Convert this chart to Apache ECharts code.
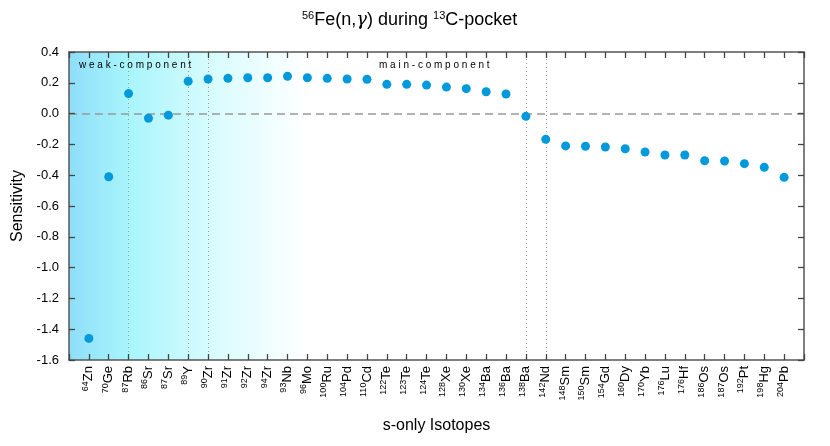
<!DOCTYPE html>
<html>
<head>
<meta charset="utf-8">
<script src="https://cdn.jsdelivr.net/npm/echarts@6/dist/echarts.min.js"></script>
<style>
  html, body { margin: 0; padding: 0; background: #fff; }
  #main { width: 830px; height: 446px; }
</style>
</head>
<body>
<div id="main"></div>
<script>
// isotopes (mass number + element) and their sensitivities
var masses = ['64','70','87','86','87','89','90','91','92','94','93','96','100','104','110','122','123','124',
              '128','130','134','136','138','142','148','150','154','160','170','176','176','186','187','192','198','204'];
var elements = ['Zn','Ge','Rb','Sr','Sr','Y','Zr','Zr','Zr','Zr','Nb','Mo','Ru','Pd','Cd','Te','Te','Te',
                'Xe','Xe','Ba','Ba','Ba','Nd','Sm','Sm','Gd','Dy','Yb','Lu','Hf','Os','Os','Pt','Hg','Pb'];
var sensitivity = [-1.46, -0.41, 0.13, -0.03, -0.01, 0.21, 0.225, 0.229, 0.233, 0.233, 0.242, 0.233, 0.229, 0.225, 0.223,
                   0.19, 0.19, 0.185, 0.172, 0.162, 0.142, 0.127, -0.018, -0.167, -0.21, -0.212, -0.217, -0.228,
                   -0.249, -0.269, -0.269, -0.306, -0.308, -0.325, -0.349, -0.414];
// separators between groups (isotope index)
var dividers = [2, 5, 6, 22, 23];

var chart = echarts.init(document.getElementById('main'));
var font = 'Liberation Sans, Arial, sans-serif';
var axisColor = '#555';
var yMin = -1.6, yMax = 0.4;

// one empty slot on each side so the first/last isotope sit one step in from the frame
var cats = [''].concat(masses.map(function (m, i) { return m + '|' + elements[i]; })).concat(['']);
var points = sensitivity.map(function (v, i) { return [i + 1, v]; });

function tick() {
    return { show: true, inside: true, length: 6, interval: 0, lineStyle: { color: '#444', width: 1.3 } };
}
function line() {
    return { show: true, onZero: false, lineStyle: { color: axisColor, width: 1.5 } };
}

var option = {
    animation: false,
    title: {
        text: '{sup|56}Fe(n,{g|γ}) during {sup|13}C-pocket',
        left: 297,
        top: 5,
        textStyle: {
            fontFamily: font,
            fontSize: 18,
            fontWeight: 'normal',
            color: '#000',
            rich: {
                sup: { fontSize: 11, verticalAlign: 'top', lineHeight: 20, fontFamily: font },
                g: { fontSize: 18, fontStyle: 'italic', fontFamily: 'DejaVu Serif, serif' }
            }
        }
    },
    grid: { left: 69, right: 26, top: 52, bottom: 86 },
    xAxis: [
        {
            type: 'category',
            data: cats,
            boundaryGap: false,
            z: 10,
            name: 's-only Isotopes',
            nameLocation: 'middle',
            nameGap: 58,
            nameTextStyle: { fontFamily: font, fontSize: 16, color: '#000' },
            axisLine: line(),
            axisTick: tick(),
            splitLine: { show: false },
            axisLabel: {
                interval: 0,
                rotate: 90,
                margin: 6,
                color: '#000',
                formatter: function (v) {
                    if (!v) return '';
                    var p = v.split('|');
                    return '{sup|' + p[0] + '}{el|' + p[1] + '}';
                },
                rich: {
                    sup: { fontSize: 9, fontFamily: font, color: '#000', verticalAlign: 'top', lineHeight: 16 },
                    el: { fontSize: 13, fontFamily: font, color: '#000', lineHeight: 16 }
                }
            }
        },
        {
            type: 'category',
            data: cats,
            boundaryGap: false,
            position: 'top',
            z: 10,
            axisLine: line(),
            axisTick: tick(),
            axisLabel: { show: false, interval: 0 },
            splitLine: { show: false }
        }
    ],
    yAxis: [
        {
            type: 'value',
            min: yMin, max: yMax, interval: 0.2,
            z: 10,
            name: 'Sensitivity',
            nameLocation: 'middle',
            nameGap: 29,
            nameTextStyle: { fontFamily: font, fontSize: 16, color: '#000' },
            axisLine: line(),
            axisTick: tick(),
            splitLine: { show: false },
            axisLabel: {
                fontFamily: font, fontSize: 13, color: '#000', margin: 10,
                formatter: function (v) { return v.toFixed(1); }
            }
        },
        {
            type: 'value',
            position: 'right',
            min: yMin, max: yMax, interval: 0.2,
            z: 10,
            axisLine: line(),
            axisTick: tick(),
            axisLabel: { show: false },
            splitLine: { show: false }
        }
    ],
    graphic: [
        {
            type: 'text', left: 79, top: 60, z: 100,
            style: { text: 'w e a k - c o m p o n e n t', font: '10px ' + font, fill: '#000' }
        },
        {
            type: 'text', left: 379, top: 60, z: 100,
            style: { text: 'm a i n - c o m p o n e n t', font: '10px ' + font, fill: '#000' }
        }
    ],
    series: [
        {
            type: 'scatter',
            data: points,
            symbolSize: 9,
            itemStyle: { color: '#0099dc', opacity: 1 },
            z: 5,
            markArea: {
                silent: true,
                z: 0,
                itemStyle: {
                    opacity: 1,
                    color: new echarts.graphic.LinearGradient(0, 0, 1, 0, [
                        { offset: 0, color: '#8edef9' },
                        { offset: 0.25, color: '#a8f5fc' },
                        { offset: 0.6, color: '#d8fcfe' },
                        { offset: 1, color: '#ffffff' }
                    ])
                },
                data: [[{ xAxis: 0, yAxis: yMin }, { xAxis: 11.9, yAxis: yMax }]]
            },
            markLine: {
                silent: true,
                symbol: 'none',
                label: { show: false },
                data: [
                    { yAxis: 0, lineStyle: { type: [8, 5], color: '#999', width: 1.5 } }
                ].concat(dividers.map(function (d) {
                    return { xAxis: d + 1, lineStyle: { type: [1, 3], color: '#999', width: 1 } };
                }))
            }
        }
    ]
};

chart.setOption(option);
</script>
</body>
</html>
